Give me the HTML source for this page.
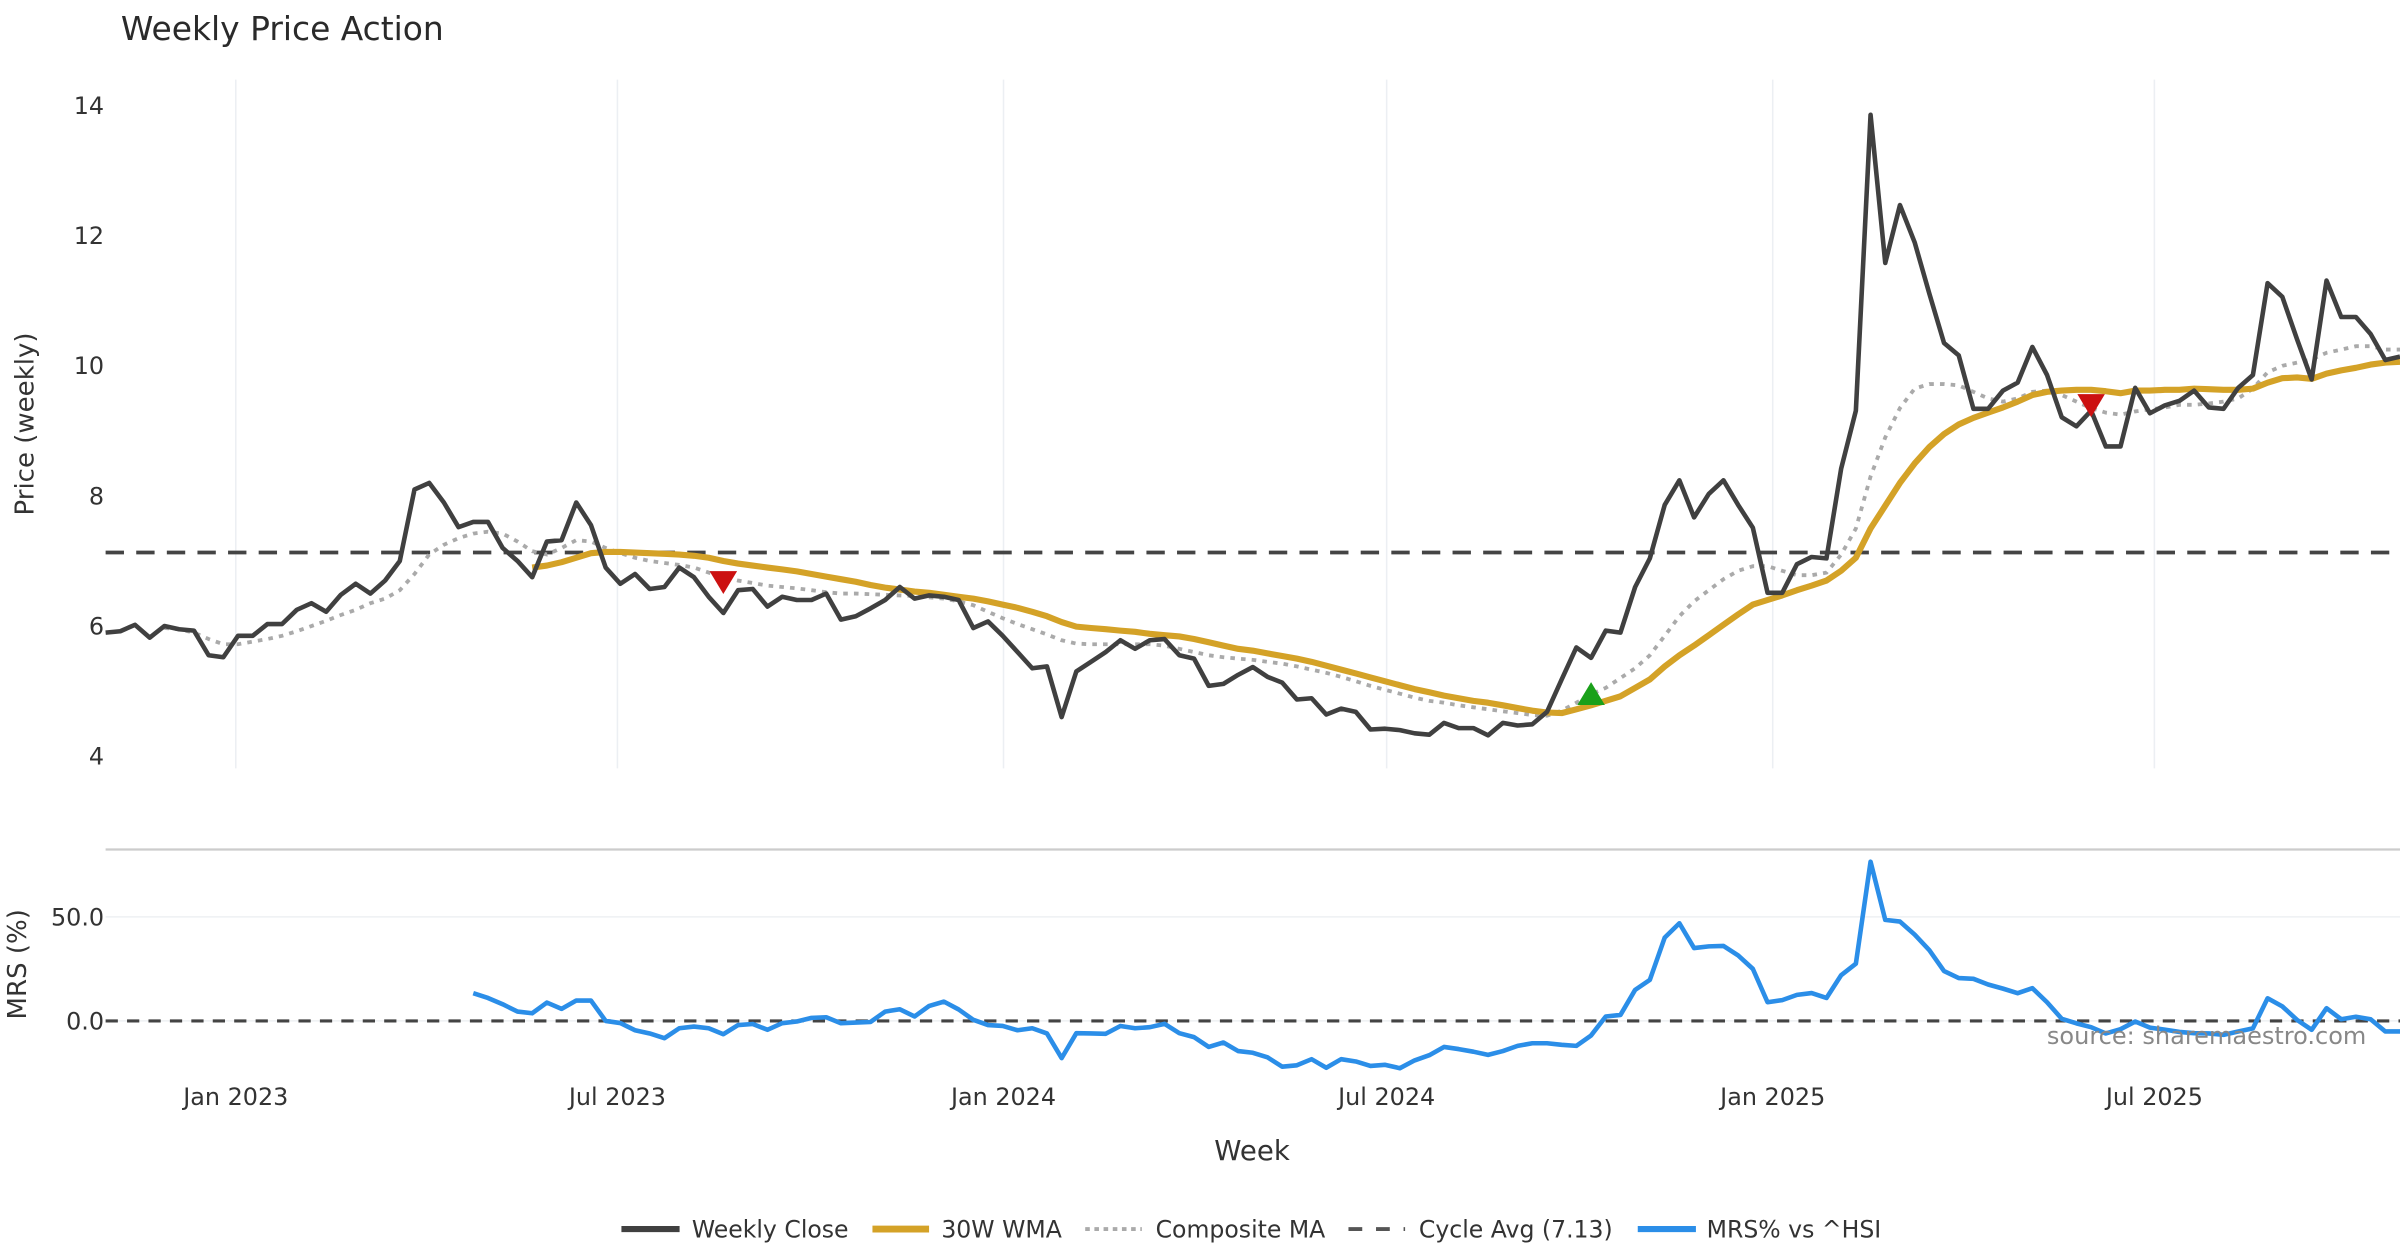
<!DOCTYPE html>
<html><head><meta charset="utf-8"><title>Weekly Price Action</title>
<style>
html,body{margin:0;padding:0;background:#fff;}
svg{display:block;font-family:"DejaVu Sans","Liberation Sans",sans-serif;}
</style></head>
<body>
<svg id="chart" width="2400" height="1260" viewBox="0 0 1568 823.2" xmlns="http://www.w3.org/2000/svg">
<text x="79" y="26" font-size="21.5" fill="#2a2a2a">Weekly Price Action</text>
<g id="grid"></g>
<g id="axes"></g>
<g id="series"></g>
<text transform="translate(22,277) rotate(-90)" text-anchor="middle" font-size="17" fill="#333">Price (weekly)</text>
<text transform="translate(17,630) rotate(-90)" text-anchor="middle" font-size="17" fill="#333">MRS (%)</text>
<text x="818" y="758" text-anchor="middle" font-size="18" fill="#333">Week</text>
<text x="1546" y="682" text-anchor="end" font-size="15.7" fill="#888">source: sharemaestro.com</text>
<g font-size="15.4" fill="#333">
  <g><line x1="406" y1="803" x2="444" y2="803" stroke="#404040" stroke-width="4"/><text x="452" y="808.5">Weekly Close</text></g>
  <g><line x1="570" y1="803" x2="607" y2="803" stroke="#d4a227" stroke-width="4.5"/><text x="615" y="808.5">30W WMA</text></g>
  <g><line x1="709" y1="803" x2="746" y2="803" stroke="#aaa" stroke-width="2.5" stroke-dasharray="3,3"/><text x="755" y="808.5">Composite MA</text></g>
  <g><line x1="881" y1="803" x2="918" y2="803" stroke="#555" stroke-width="2.5" stroke-dasharray="9,9"/><text x="927" y="808.5">Cycle Avg (7.13)</text></g>
  <g><line x1="1070" y1="803" x2="1108" y2="803" stroke="#2b8ee8" stroke-width="4"/><text x="1115" y="808.5">MRS% vs ^HSI</text></g>
</g>
</svg>
<script>
const closeVals=[5.9,5.92,6.02,5.82,6.0,5.95,5.93,5.55,5.52,5.85,5.85,6.03,6.03,6.25,6.35,6.22,6.48,6.65,6.5,6.7,7.0,8.1,8.2,7.9,7.52,7.6,7.6,7.2,7.0,6.75,7.3,7.32,7.9,7.55,6.9,6.65,6.8,6.57,6.6,6.9,6.75,6.45,6.2,6.55,6.57,6.3,6.45,6.4,6.4,6.5,6.1,6.15,6.27,6.4,6.6,6.42,6.47,6.45,6.4,5.97,6.07,5.85,5.6,5.35,5.38,4.6,5.3,5.45,5.6,5.78,5.65,5.78,5.8,5.55,5.5,
5.08,5.11,5.25,5.37,5.22,5.13,4.87,4.89,4.64,4.73,4.68,4.41,4.42,4.40,4.35,4.33,4.51,4.43,4.43,4.32,4.51,4.47,4.49,4.68,5.18,5.67,5.51,5.93,5.9,6.6,7.04,7.86,8.24,7.67,8.03,8.24,7.86,7.51,6.51,6.51,6.95,7.06,7.04,8.42,9.31,13.86,11.58,12.47,11.9,11.11,10.35,10.16,9.34,9.34,9.62,9.74,10.29,9.86,9.21,9.07,9.31,8.76,8.76,9.66,9.27,9.39,9.46,9.62,9.36,9.34,9.66,9.86,11.27,11.06,10.41,9.79,11.31,10.75,10.75,10.49,10.09,10.14];
const wmaStart=29;
const wmaVals=[6.90,6.93,6.98,7.05,7.12,7.14,7.14,7.13,7.12,7.11,7.10,7.08,7.05,7.00,6.96,6.93,6.90,6.87,6.84,6.80,6.76,6.72,6.68,6.63,6.59,6.56,6.53,6.51,6.48,6.45,6.42,6.38,6.33,6.28,6.22,6.15,6.06,5.99,5.97,5.95,5.93,5.91,5.88,5.86,5.84,5.80,5.75,5.70,5.65,5.62,5.58,5.54,5.50,5.45,5.39,5.33,5.27,5.21,5.15,5.09,5.03,4.98,4.93,4.89,4.85,4.82,4.78,4.74,4.70,4.67,4.66,4.72,4.78,4.85,4.92,5.05,5.18,5.38,5.55,5.70,5.86,6.02,6.18,6.33,6.40,6.47,6.55,6.62,6.70,6.85,7.05,7.50,7.85,8.20,8.50,8.75,8.95,9.10,9.20,9.28,9.36,9.45,9.55,9.60,9.62,9.63,9.63,9.61,9.58,9.62,9.62,9.63,9.63,9.65,9.64,9.63,9.63,9.65,9.74,9.81,9.82,9.80,9.88,9.93,9.97,10.02,10.05,10.06];
const compStart=4;
const compVals=[5.97,5.95,5.9,5.8,5.72,5.72,5.76,5.8,5.85,5.92,6.0,6.08,6.17,6.25,6.35,6.42,6.55,6.8,7.1,7.25,7.35,7.42,7.45,7.42,7.3,7.15,7.1,7.2,7.32,7.3,7.2,7.12,7.05,7.0,6.97,6.94,6.9,6.82,6.75,6.7,6.66,6.62,6.6,6.58,6.55,6.52,6.5,6.5,6.49,6.48,6.47,6.46,6.44,6.42,6.38,6.32,6.22,6.12,6.03,5.95,5.87,5.78,5.73,5.72,5.72,5.72,5.72,5.72,5.7,5.65,5.6,5.55,5.52,5.5,5.48,5.45,5.42,5.38,5.33,5.28,5.22,5.15,5.08,5.02,4.96,4.9,4.85,4.82,4.78,4.75,4.72,4.69,4.66,4.63,4.62,4.7,4.82,4.95,5.05,5.2,5.35,5.55,5.85,6.15,6.38,6.55,6.72,6.85,6.92,6.92,6.85,6.78,6.78,6.82,7.1,7.5,8.3,8.9,9.35,9.65,9.72,9.72,9.7,9.6,9.5,9.45,9.5,9.6,9.62,9.55,9.45,9.35,9.28,9.25,9.3,9.33,9.36,9.4,9.4,9.42,9.45,9.5,9.65,9.9,10.0,10.05,10.1,10.2,10.25,10.3,10.3,10.25,10.25];
const mrsStart=25;
const mrsVals=[13.3,11.0,8.0,4.5,3.7,8.8,5.8,9.8,9.8,0.0,-1.0,-4.5,-6.0,-8.3,-3.5,-2.7,-3.5,-6.4,-2.0,-1.5,-4.3,-1.1,-0.3,1.5,1.8,-1.1,-0.8,-0.5,4.5,5.6,2.1,7.2,9.3,5.5,0.5,-2.0,-2.4,-4.5,-3.5,-6.0,-17.9,-5.9,-6.0,-6.2,-2.4,-3.5,-3.0,-1.4,-5.9,-7.8,-12.5,-10.4,-14.5,-15.3,-17.5,-22.0,-21.3,-18.4,-22.5,-18.4,-19.5,-21.6,-21.1,-22.7,-19.0,-16.5,-12.5,-13.5,-14.8,-16.3,-14.5,-12.0,-10.7,-10.7,-11.5,-12.0,-7.0,2.1,2.9,14.9,19.7,40.0,46.9,35.0,35.8,36.0,31.5,25.0,9.0,10.0,12.5,13.4,11.0,22.0,27.5,76.5,48.5,47.7,41.5,34.0,24.0,20.6,20.2,17.5,15.5,13.3,15.7,9.0,1.0,-1.2,-3.0,-6.0,-4.0,-0.3,-3.2,-4.2,-5.3,-5.9,-6.0,-6.7,-5.1,-3.6,10.9,7.0,0.5,-4.3,6.1,0.8,2.0,0.8,-5.1,-5.1];
const cycleAvg=7.13;
const sellIdx=[42,135];
const sellVals=[6.68,9.4];
const buyIdx=[101];
const buyVals=[4.95];
const dateTicks=["Jan 2023","Jul 2023","Jan 2024","Jul 2024","Jan 2025","Jul 2025"];
const dateTickWeeks=[8.85,34.8,61.05,87.1,113.35,139.3];
const priceTicks=[4,6,8,10,12,14];
const mrsTicks=[0,50];
const mrsTickLabels=["0.0","50.0"];

const NS="http://www.w3.org/2000/svg";
const X0=69,X1=1568;
const nPts=closeVals.length;
function xs(i){return X0+i*(X1-X0)/(nPts-1);}
function yp(v){return 69+(14-v)*42.5;}
function ym(v){return 667-v*1.36;}
function mk(tag,attrs,parent){const e=document.createElementNS(NS,tag);for(const k in attrs)e.setAttribute(k,attrs[k]);parent.appendChild(e);return e;}
const grid=document.getElementById('grid'),axes=document.getElementById('axes'),ser=document.getElementById('series');

dateTickWeeks.forEach((w,k)=>{
  const x=xs(w);
  const g=mk('line',{x1:x,x2:x,y1:52,y2:502,stroke:'#eceff3','stroke-width':1},grid);
  
  
  const t=mk('text',{x:x,y:722,'text-anchor':'middle','font-size':15.6,fill:'#333'},axes);
  t.textContent=dateTicks[k];
  
  
});
priceTicks.forEach(v=>{
  const t=mk('text',{x:68,y:yp(v)+5.5,'text-anchor':'end','font-size':15.6,fill:'#333'},axes);
  t.textContent=String(v);
  
  
});
mrsTicks.forEach((v,k)=>{
  const gl=mk('line',{x1:X0,x2:X1,y1:ym(v),y2:ym(v),stroke:'#eef0f3','stroke-width':1},grid);
  
  
  const t=mk('text',{x:68,y:ym(v)+5.5,'text-anchor':'end','font-size':15.6,fill:'#333'},axes);
  t.textContent=mrsTickLabels[k];
  
  
});
const sep=mk('line',{x1:X0,x2:X1,y1:555,y2:555,stroke:'#cccccc','stroke-width':1.5},axes);



const ca=mk('line',{x1:X0,x2:X1,y1:yp(cycleAvg),y2:yp(cycleAvg),stroke:'#444','stroke-width':2.5,'stroke-dasharray':'12,8'},ser);


const mz=mk('line',{x1:X0,x2:X1,y1:ym(0),y2:ym(0),stroke:'#444','stroke-width':2,'stroke-dasharray':'8,6'},ser);



function pathFrom(vals,start,yf){return vals.map((v,j)=>(j?'L':'M')+xs(start+j).toFixed(1)+','+yf(v).toFixed(1)).join(' ');}
const pc=mk('path',{d:pathFrom(compVals,compStart,yp),fill:'none',stroke:'#aaaaaa','stroke-width':2.5,'stroke-dasharray':'3,4'},ser);


const pw=mk('path',{d:pathFrom(wmaVals,wmaStart,yp),fill:'none',stroke:'#d4a227','stroke-width':4,'stroke-linejoin':'round'},ser);


const pcl=mk('path',{d:pathFrom(closeVals,0,yp),fill:'none',stroke:'#404040','stroke-width':3,'stroke-linejoin':'round'},ser);


const pm=mk('path',{d:pathFrom(mrsVals,mrsStart,ym),fill:'none',stroke:'#2b8ee8','stroke-width':3,'stroke-linejoin':'round'},ser);



sellIdx.forEach((i,k)=>{
  const x=xs(i),y=yp(sellVals[k]);
  const p=mk('polygon',{points:`${x-9},${y-7} ${x+9},${y-7} ${x},${y+8}`,fill:'#cc1111'},ser);
  
  
});
buyIdx.forEach((i,k)=>{
  const x=xs(i),y=yp(buyVals[k]);
  const p=mk('polygon',{points:`${x-9},${y+7} ${x+9},${y+7} ${x},${y-8}`,fill:'#1aa01a'},ser);
  
  
});
</script>
</body></html>
